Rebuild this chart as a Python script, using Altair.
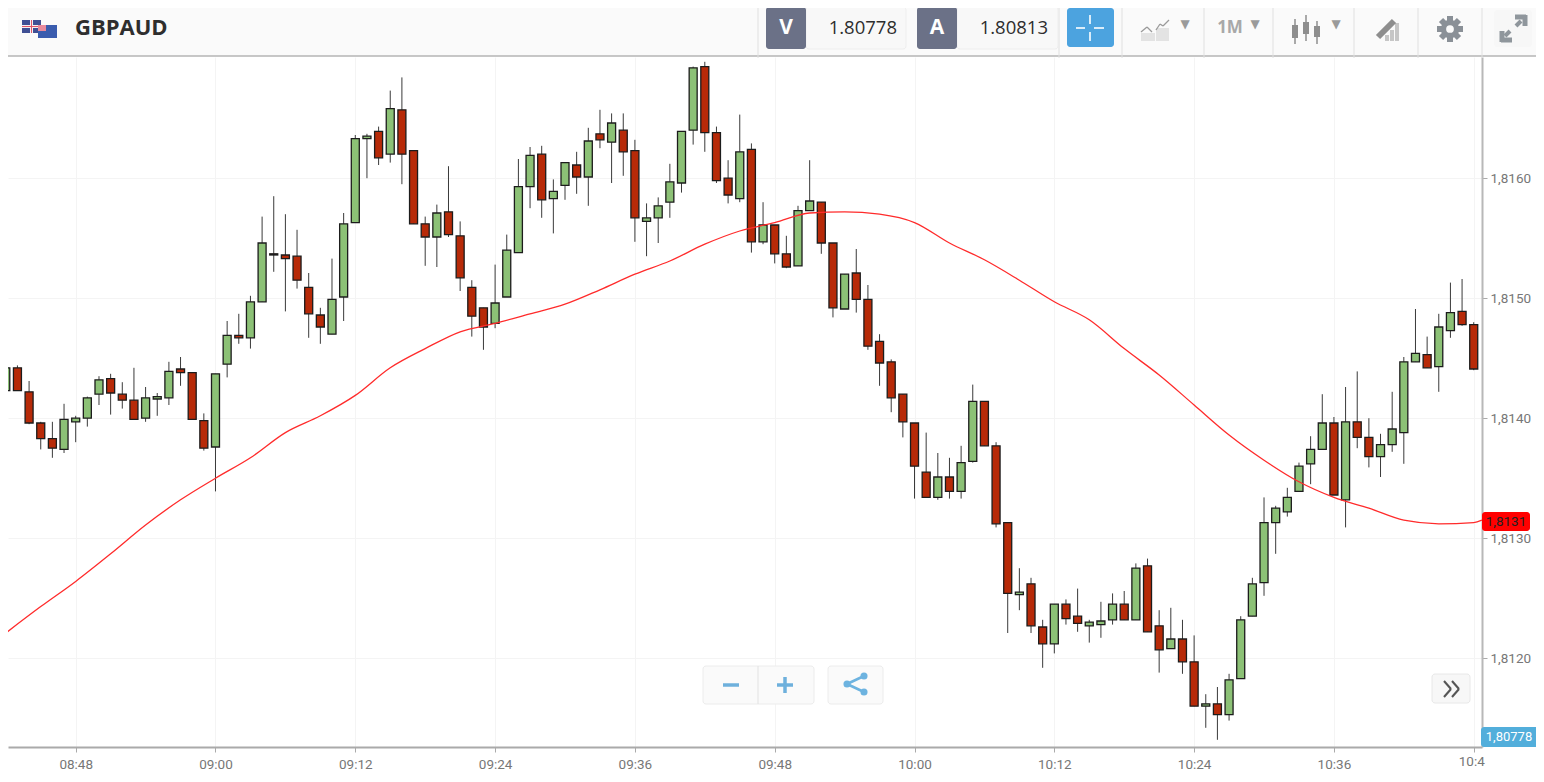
import altair as alt
import pandas as pd

FIRST_MINUTE = 8 * 60 + 42  # 08:42 is the first candle, one candle per minute

# prices are in 1e-5 units (181442 = 1.81442)
body_top = [181442,181442,181422,181396,181383,181399,181400,181417,181432,181433,181420,181415,181417,181418,181439,181441,181438,181398,181437,181469,181469,181497,181546,181537,181536,181535,181509,181486,181499,181562,181633,181635,181639,181658,181657,181623,181562,181571,181572,181552,181509,181492,181496,181540,181593,181619,181620,181589,181613,181611,181631,181637,181646,181640,181623,181567,181577,181597,181639,181692,181693,181638,181600,181622,181624,181561,181561,181537,181573,181581,181580,181546,181520,181521,181499,181464,181447,181420,181396,181355,181351,181351,181363,181414,181414,181377,181313,181255,181262,181226,181245,181245,181235,181230,181231,181245,181245,181275,181277,181227,181216,181216,181197,181162,181162,181182,181232,181262,181313,181325,181334,181360,181374,181396,181396,181397,181397,181384,181378,181391,181447,181454,181453,181476,181488,181489,181478]
body_bottom = [181423,181423,181396,181383,181375,181374,181397,181400,181420,181421,181415,181399,181400,181416,181417,181438,181399,181375,181376,181445,181467,181467,181497,181536,181533,181515,181487,181476,181470,181501,181563,181633,181617,181620,181620,181562,181551,181551,181553,181517,181485,181476,181479,181501,181538,181593,181582,181583,181594,181601,181601,181632,181630,181622,181567,181564,181567,181580,181596,181640,181638,181598,181586,181583,181547,181547,181537,181526,181527,181573,181546,181492,181491,181499,181460,181446,181417,181397,181360,181334,181334,181339,181339,181364,181377,181312,181254,181253,181227,181212,181212,181233,181229,181227,181228,181232,181232,181232,181222,181207,181208,181197,181160,181160,181153,181153,181183,181235,181263,181313,181322,181339,181362,181374,181336,181332,181384,181368,181368,181378,181388,181447,181442,181443,181473,181478,181441]
wick_high = [181449,181444,181431,181397,181397,181412,181402,181418,181435,181437,181430,181442,181426,181421,181447,181451,181438,181404,181437,181481,181487,181502,181568,181585,181570,181557,181521,181492,181533,181571,181636,181637,181643,181673,181684,181623,181568,181578,181610,181564,181515,181492,181528,181553,181616,181626,181627,181599,181613,181622,181642,181657,181654,181654,181632,181579,181584,181612,181639,181693,181697,181643,181615,181653,181629,181580,181561,181552,181577,181615,181580,181546,181520,181541,181511,181470,181449,181420,181396,181388,181371,181367,181377,181428,181414,181380,181313,181275,181267,181232,181245,181249,181258,181232,181247,181254,181256,181279,181283,181240,181242,181232,181219,181170,181176,181187,181235,181267,181334,181327,181342,181363,181385,181420,181401,181426,181439,181400,181387,181422,181451,181491,181468,181487,181513,181516,181480]
wick_low = [181423,181423,181395,181374,181367,181371,181380,181393,181411,181403,181408,181399,181397,181402,181411,181427,181399,181373,181339,181434,181462,181458,181497,181522,181489,181508,181467,181462,181470,181481,181563,181600,181611,181613,181595,181562,181527,181526,181551,181506,181468,181457,181475,181501,181538,181575,181567,181554,181582,181587,181577,181625,181596,181602,181547,181535,181546,181567,181588,181628,181622,181596,181579,181580,181538,181545,181529,181525,181527,181573,181537,181484,181491,181488,181457,181427,181405,181384,181333,181334,181332,181333,181333,181363,181377,181309,181221,181240,181221,181192,181204,181228,181222,181213,181217,181228,181232,181232,181222,181188,181208,181187,181160,181142,181132,181148,181183,181235,181252,181287,181318,181339,181345,181374,181336,181309,181375,181359,181351,181372,181362,181447,181442,181422,181467,181477,181440]
red_candles = [1,2,3,4,9,10,11,15,16,17,20,23,24,25,26,27,32,34,35,36,38,39,40,41,46,49,51,53,54,60,61,62,64,66,67,70,71,73,74,75,76,77,78,79,81,84,85,86,88,89,91,92,96,98,99,101,102,104,114,116,117,122,125,126]

ma_minutes = [522,525,528,531,534,537,540,543,546,549,552,555,558,561,564,567,570,573,576,579,582,585,588,591,594,597,600,603,606,609,612,615,618,621,624,627,630,633,636,639,642,645,648,648.7]
ma_points = [181221,181243,181264,181287,181311,181332,181350,181367,181388,181402,181419,181442,181458,181472,181479,181487,181495,181507,181520,181531,181545,181556,181563,181571,181572,181570,181563,181546,181532,181515,181497,181482,181458,181436,181411,181386,181365,181347,181334,181325,181315,181312,181313,181315]

x_tick_minutes = [528,540,552,564,576,588,600,612,624,636,648]
x_tick_labels = ["08:48","09:00","09:12","09:24","09:36","09:48","10:00","10:12","10:24","10:36",""]
y_ticks = [1.8120,1.8130,1.8140,1.8150,1.8160]

X_DOMAIN = [522.19, 648.71]
Y_DOMAIN = [1.81126, 1.81701]
PLOT_W, PLOT_H = 1474, 690
PAD_L, PAD_T = 8, 57  # page position of the plot area's corner
LABEL_FONT = "Roboto"

rows = []
for i in range(len(body_top)):
    rows.append(dict(
        minute=FIRST_MINUTE + i,
        top=body_top[i] / 1e5, bottom=body_bottom[i] / 1e5,
        high=wick_high[i] / 1e5, low=wick_low[i] / 1e5,
        kind="down" if i in red_candles else "up",
    ))
candles = pd.DataFrame(rows)
ma = pd.DataFrame({"minute": ma_minutes, "price": [v / 1e5 for v in ma_points]})

label_map = "{" + ",".join(f"'{m}':'{l}'" for m, l in zip(x_tick_minutes, x_tick_labels)) + "}"
x_scale = alt.Scale(domain=X_DOMAIN, nice=False, zero=False, padding=0)
y_scale = alt.Scale(domain=Y_DOMAIN, nice=False, zero=False, padding=0)
x_axis = alt.Axis(values=x_tick_minutes, labelExpr=f"{label_map}[''+datum.value]", title=None,
                  grid=True, gridColor="#f4f4f4", gridWidth=1, domainColor="#aaaaaa", domainWidth=2,
                  tickColor="#aaaaaa", tickSize=5, labelColor="#777777", labelFont=LABEL_FONT,
                  labelFontSize=13.5, labelPadding=5, labelFlush=False, labelOverlap=False)
y_axis = alt.Axis(values=y_ticks, orient="right", labelExpr="replace(format(datum.value,'.4f'),'.',',')", title=None,
                  grid=True, gridColor="#f4f4f4", gridWidth=1, domainColor="#b8b8b8", domainWidth=2,
                  tickColor="#aaaaaa", tickSize=5, labelColor="#777777", labelFont=LABEL_FONT,
                  labelFontSize=13.5, labelPadding=3, labelOverlap=False)
X = alt.X("minute:Q", scale=x_scale, axis=x_axis)

wicks = alt.Chart(candles).mark_rule(color="#3a3a3a", strokeWidth=1).encode(
    x=X, y=alt.Y("high:Q", scale=y_scale, axis=y_axis), y2="low:Q",
)
bodies = alt.Chart(candles).mark_bar(size=8, stroke="#1c1c1c", strokeWidth=1.3).encode(
    x=X, y=alt.Y("top:Q", scale=y_scale, axis=y_axis), y2="bottom:Q",
    fill=alt.Fill("kind:N", scale=alt.Scale(domain=["up", "down"], range=["#8cc176", "#b72a08"]), legend=None),
)
ma_line = alt.Chart(ma).mark_line(color="#ff2b2b", strokeWidth=1.3, interpolate="monotone").encode(
    x=X, y=alt.Y("price:Q", scale=y_scale, axis=y_axis),
)
cut_label = alt.Chart(pd.DataFrame({"minute": [648], "t": ["10:4"]})).mark_text(
    align="left", baseline="middle", dx=-15, font=LABEL_FONT, fontSize=13.5, color="#777777"
).encode(
    x=X,
    y=alt.value(763 - PAD_T - 1),
    text="t:N",
)


# ---- interface chrome, given in page pixels ----
def px(v): return v - PAD_L
def py(v): return v - PAD_T


def rect_layer(items, radius=0):
    df = pd.DataFrame([dict(x=px(a), x2=px(c), y=py(b), y2=py(d), f=f, s=s) for a, b, c, d, f, s in items])
    return alt.Chart(df).mark_rect(cornerRadius=radius, strokeWidth=1).encode(
        x=alt.X("x:Q", scale=None), x2="x2:Q",
        y=alt.Y("y:Q", scale=None), y2="y2:Q",
        fill=alt.Fill("f:N", scale=None), stroke=alt.Stroke("s:N", scale=None),
    )


def line_layer(items):
    df = pd.DataFrame([dict(x=px(a), x2=px(c), y=py(b), y2=py(d), c=col, w=w) for a, b, c, d, col, w in items])
    return alt.Chart(df).mark_rule().encode(
        x=alt.X("x:Q", scale=None), x2="x2:Q",
        y=alt.Y("y:Q", scale=None), y2="y2:Q",
        color=alt.Color("c:N", scale=None), strokeWidth=alt.StrokeWidth("w:Q", scale=None),
    )


def dot_layer(items):
    df = pd.DataFrame([dict(x=px(a), y=py(b), s=s, c=c) for a, b, s, c in items])
    return alt.Chart(df).mark_circle(opacity=1).encode(
        x=alt.X("x:Q", scale=None), y=alt.Y("y:Q", scale=None),
        size=alt.Size("s:Q", scale=None), color=alt.Color("c:N", scale=None),
    )


def text_layer(items, font, weight="normal", align="center"):
    df = pd.DataFrame([dict(x=px(a), y=py(b), t=t, s=s, c=c) for a, b, t, s, c in items])
    return alt.Chart(df).mark_text(font=font, fontWeight=weight, align=align, baseline="middle").encode(
        x=alt.X("x:Q", scale=None),
        y=alt.Y("y:Q", scale=None),
        text="t:N",
        size=alt.Size("s:Q", scale=None),
        color=alt.Color("c:N", scale=None),
    )


NONE = "transparent"
GEAR = "#8a9097"
ARROW = "#8f969c"
bar_bg = rect_layer([(0, 0, 1544, 56, "#fafafa", NONE)])
bar_lines = line_layer(
    [(0, 56, 1544, 56, "#b4b4b4", 1.5)]
    + [(x, 0, x, 58, "#e0e0e0", 1) for x in (758, 1059, 1122, 1204, 1273, 1354, 1418, 1482)]
)
panels = rect_layer([
    (806, 7, 906, 49, "#f8f8f8", "#eeeeee"),
    (957, 7, 1058, 49, "#f8f8f8", "#eeeeee"),
    (1494, 10, 1532, 47, "#f7f7f7", NONE),
    (703, 666, 814, 704, "#fafafa", "#ececec"),
    (828, 666, 883, 704, "#fafafa", "#ececec"),
    (1432, 674, 1470, 703, "#f7f7f7", "#e8e8e8"),
], radius=3)
dark = rect_layer([
    (766, 7, 806, 49, "#6b7187", NONE),
    (917, 7, 957, 49, "#6b7187", NONE),
    (1067, 8, 1114, 47, "#4ca3df", NONE),
    (1482, 512, 1530, 531, "#ff0000", NONE),
    (1481, 727, 1540, 747, "#52aedb", NONE),
], radius=3)
flags = rect_layer([
    (22, 20, 41, 33, "#3f4f94", NONE),
    (30, 20, 33, 33, "#f4f0f2", NONE),
    (22, 25, 41, 28, "#f4f0f2", NONE),
    (31, 20, 32, 33, "#e0566a", NONE),
    (22, 26, 41, 27, "#e0566a", NONE),
    (38, 25, 57, 38, "#3a5cae", NONE),
    (38, 25, 46, 31, "#e88a9c", NONE),
])
icons = rect_layer([
    (1141, 33, 1155, 41, "#e3e3e3", NONE),
    (1156, 28, 1169, 41, "#e3e3e3", NONE),
    (1292, 25, 1298, 38, "#8e8e8e", NONE),
    (1303, 22, 1309, 34, "#8e8e8e", NONE),
    (1314, 26, 1320, 37, "#8e8e8e", NONE),
    (1385, 35, 1389, 41, "#c6c6c6", NONE),
    (1390, 30, 1394, 41, "#c6c6c6", NONE),
    (1395, 23, 1399, 41, "#c6c6c6", NONE),
])
icon_lines = line_layer([
    (1141, 32, 1147, 27, "#9a9a9a", 1.3), (1147, 27, 1152, 32, "#9a9a9a", 1.3),
    (1156, 30, 1160, 24, "#9a9a9a", 1.3), (1160, 24, 1163, 26, "#9a9a9a", 1.3), (1163, 26, 1169, 20, "#9a9a9a", 1.3),
    (1295, 19, 1295, 44, "#8e8e8e", 1.5), (1306, 15, 1306, 41, "#8e8e8e", 1.5), (1317, 21, 1317, 44, "#8e8e8e", 1.5),
    (1378, 37, 1394, 21, "#8e8e8e", 6),
    (1076, 28, 1085, 28, "#ffffff", 1.6), (1094, 28, 1104, 28, "#ffffff", 1.6),
    (1090, 15, 1090, 24, "#ffffff", 1.6), (1090, 32, 1090, 41, "#ffffff", 1.6),
    (1450, 16, 1450, 42, GEAR, 6), (1437, 29, 1463, 29, GEAR, 6),
    (1441, 20, 1459, 38, GEAR, 6), (1441, 38, 1459, 20, GEAR, 6),
    (1505, 36, 1510, 31, ARROW, 4), (1516, 26, 1521, 21, ARROW, 4),
    (1515, 17, 1526, 17, ARROW, 5), (1525, 15, 1525, 26, ARROW, 5),
    (1501, 40, 1512, 40, ARROW, 5), (1502, 31, 1502, 42, ARROW, 5),
    (758, 666, 758, 704, "#e2e2e2", 1),
    (723, 685, 739, 685, "#6eb0dc", 3.5), (777, 685, 793, 685, "#6eb0dc", 3.5), (785, 677, 785, 693, "#6eb0dc", 3.5),
    (847, 684, 864, 676, "#6db3e0", 2.5), (847, 684, 864, 692, "#6db3e0", 2.5),
    (1444, 681, 1451, 689, "#555555", 2), (1451, 689, 1444, 697, "#555555", 2),
    (1452, 681, 1459, 689, "#555555", 2), (1459, 689, 1452, 697, "#555555", 2),
])
dots = dot_layer([
    (847, 684, 50, "#6db3e0"), (864, 676, 50, "#6db3e0"), (864, 692, 50, "#6db3e0"),
    (1450, 29, 340, GEAR), (1450, 29, 60, "#fafafa"),
])
carets = text_layer([(1185, 24, "▼", 12, "#9a9a9a"), (1255, 24, "▼", 12, "#9a9a9a"), (1336, 24, "▼", 12, "#9a9a9a")], "DejaVu Sans")
symbol = text_layer([(75, 28, "GBPAUD", 22, "#2e2e2e")], "Open Sans", "bold", "left")
bold_text = text_layer([
    (786, 28, "V", 21, "#ffffff"), (937, 28, "A", 21, "#ffffff"), (1230, 28, "1M", 17, "#a8a8a8"),
], "Open Sans", "bold")
quotes = text_layer([(897, 28, "1.80778", 18.5, "#2e2e2e"), (1048, 28, "1.80813", 18.5, "#2e2e2e")], "Open Sans", "normal", "right")
badges = text_layer([(1506, 522, "1,8131", 13.5, "#222222"), (1509, 737, "1,80778", 13, "#ffffff")], LABEL_FONT)

chart = alt.layer(
    wicks, bodies, ma_line, cut_label,
    bar_bg, bar_lines, panels, dark, flags, icons, icon_lines, dots,
    carets, symbol, bold_text, quotes, badges,
).properties(
    width=PLOT_W, height=PLOT_H,
    padding={"left": 0, "top": 49, "right": 54, "bottom": 27},
    autosize=alt.AutoSizeParams(type="none"),
    background="#ffffff",
).configure_view(stroke=None)

chart.save("out.html", embed_options={"renderer": "svg", "actions": False})
